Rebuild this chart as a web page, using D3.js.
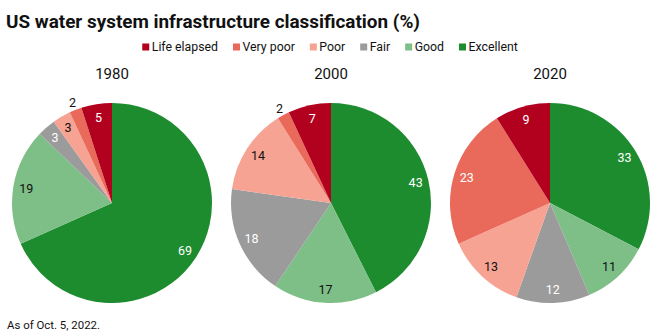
<!DOCTYPE html>
<html><head><meta charset="utf-8">
<script src="https://cdn.jsdelivr.net/npm/d3@7"></script>
<style>body{margin:0;background:#fff;} svg{display:block;font-family:Roboto, "Noto Sans", sans-serif;}</style>
</head><body>
<svg id="chart" width="660" height="333"></svg>
<script>
const categories = ["Excellent","Good","Fair","Poor","Very poor","Life elapsed"];
const legendOrder = ["Life elapsed","Very poor","Poor","Fair","Good","Excellent"];
const colors = {"Life elapsed":"#b2001f","Very poor":"#e9695b","Poor":"#f6a394","Fair":"#9b9b9b","Good":"#7ebe87","Excellent":"#1d8c2e"};
const labelColors = {"Life elapsed":"#fff","Very poor":"#fff","Poor":"#111","Fair":"#fff","Good":"#111","Excellent":"#fff"};
const years = ["1980","2000","2020"];
const values1980 = [69,19,3,3,2,5];
const values2000 = [43,17,18,14,2,7];
const values2020 = [33,11,12,13,23,9];
const seriesValues = [values1980, values2000, values2020];

const svg = d3.select("#chart");
svg.append("text").attr("x",6).attr("y",27.5).attr("font-size",18).attr("font-weight",700)
  .attr("fill","#111").attr("textLength",414).attr("lengthAdjust","spacingAndGlyphs")
  .text("US water system infrastructure classification (%)");

// legend: laid out from measured text widths, centred
const lg = svg.append("g");
const items = legendOrder.map(k=>{
  const g = lg.append("g");
  g.append("rect").attr("x",0).attr("y",-3.5).attr("width",7).attr("height",7).attr("fill",colors[k]);
  const t = g.append("text").attr("x",9.5).attr("y",4.3).attr("font-size",12.3).attr("fill","#111").text(k);
  return {g, w: 9.5 + t.node().getComputedTextLength()};
});
const itemGap = 15;
const totalW = d3.sum(items, d=>d.w) + itemGap*(items.length-1);
let lx = 330 - totalW/2;
items.forEach(it=>{ it.g.attr("transform",`translate(${lx},47)`); lx += it.w + itemGap; });

const xScale = d3.scaleBand().domain(years).range([2.5,659.5]);
const r = 100;
const pie = d3.pie().sort(null).value(d=>d.v);
const arc = d3.arc().innerRadius(0).outerRadius(r);
const labelArc = d3.arc().innerRadius(r*0.87).outerRadius(r*0.87);
const outerArc = d3.arc().innerRadius(r*1.08).outerRadius(r*1.08);

years.forEach((yr,i)=>{
  const cx = xScale(yr)+xScale.bandwidth()/2;
  const g = svg.append("g").attr("transform",`translate(${cx},203)`);
  svg.append("text").attr("x",cx).attr("y",78.5).attr("text-anchor","middle").attr("font-size",15).attr("fill","#111").text(yr);
  const data = categories.map((c,j)=>({c, v:seriesValues[i][j]}));
  const arcs = pie(data);
  g.selectAll("path").data(arcs).join("path").attr("d",arc).attr("fill",d=>colors[d.data.c]);
  g.selectAll("text").data(arcs).join("text")
    .attr("transform",d=>`translate(${(d.data.v<=2?outerArc:labelArc).centroid(d)})`)
    .attr("text-anchor","middle").attr("dy","0.36em").attr("font-size",12.5)
    .attr("fill",d=>d.data.v<=2?"#111":labelColors[d.data.c])
    .text(d=>d.data.v);
});

svg.append("text").attr("x",7).attr("y",329).attr("font-size",10.5).attr("fill","#111")
  .attr("textLength",93).attr("lengthAdjust","spacingAndGlyphs").text("As of Oct. 5, 2022.");
</script>
</body></html>
